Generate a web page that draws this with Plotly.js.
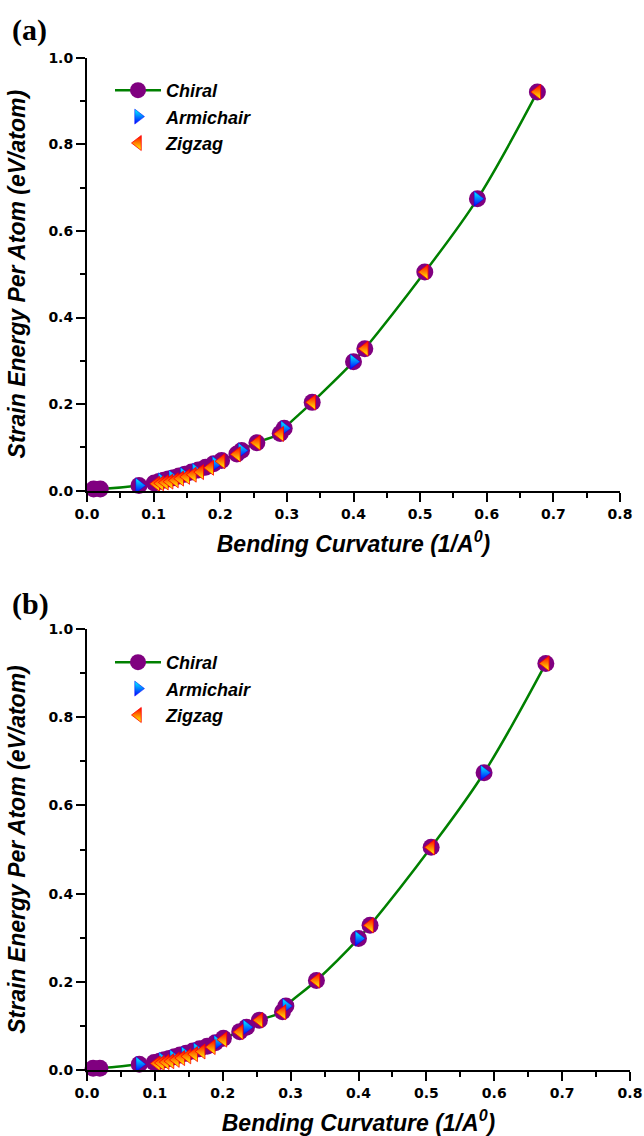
<!DOCTYPE html>
<html>
<head>
<meta charset="utf-8">
<script src="https://cdn.plot.ly/plotly-3.0.1.min.js"></script>
<style>html,body{margin:0;padding:0;background:#fff;}#chart{width:644px;height:1136px;}</style>
</head>
<body>
<div id="chart"></div>
<script>
// ---------- Panel (a) data ----------
const chiralXA = [0.010, 0.020, 0.078, 0.101, 0.108, 0.115, 0.122, 0.130, 0.138, 0.147, 0.157, 0.167, 0.178, 0.190, 0.202, 0.225, 0.232, 0.255, 0.290, 0.296, 0.338, 0.400, 0.417, 0.507, 0.586, 0.676];
const chiralYA = [0.004, 0.004, 0.012, 0.018, 0.021, 0.024, 0.027, 0.030, 0.034, 0.038, 0.043, 0.048, 0.054, 0.062, 0.070, 0.085, 0.093, 0.111, 0.132, 0.144, 0.204, 0.298, 0.328, 0.505, 0.674, 0.921];
const armXA = [0.078, 0.112, 0.128, 0.145, 0.163, 0.193, 0.232, 0.296, 0.400, 0.586];
const armYA = [0.012, 0.024, 0.030, 0.037, 0.046, 0.062, 0.093, 0.144, 0.298, 0.674];
const zigXA = [0.104, 0.110, 0.117, 0.124, 0.132, 0.140, 0.149, 0.159, 0.170, 0.185, 0.202, 0.225, 0.255, 0.290, 0.338, 0.417, 0.507, 0.676];
const zigYA = [0.016, 0.017, 0.019, 0.021, 0.024, 0.028, 0.032, 0.037, 0.043, 0.053, 0.068, 0.084, 0.111, 0.131, 0.204, 0.328, 0.505, 0.921];

// ---------- Panel (b) data ----------
const chiralXB = [0.009, 0.019, 0.077, 0.099, 0.107, 0.114, 0.121, 0.129, 0.137, 0.146, 0.156, 0.166, 0.177, 0.189, 0.201, 0.225, 0.235, 0.254, 0.288, 0.293, 0.338, 0.400, 0.417, 0.507, 0.585, 0.676];
const chiralYB = [0.004, 0.004, 0.013, 0.017, 0.020, 0.023, 0.026, 0.030, 0.034, 0.038, 0.043, 0.048, 0.054, 0.062, 0.072, 0.087, 0.097, 0.113, 0.132, 0.145, 0.203, 0.298, 0.328, 0.505, 0.674, 0.922];
const armXB = [0.077, 0.111, 0.127, 0.144, 0.162, 0.192, 0.235, 0.293, 0.400, 0.585];
const armYB = [0.013, 0.023, 0.029, 0.036, 0.045, 0.062, 0.097, 0.145, 0.298, 0.674];
const zigXB = [0.103, 0.109, 0.116, 0.123, 0.131, 0.139, 0.148, 0.158, 0.169, 0.184, 0.201, 0.225, 0.254, 0.288, 0.338, 0.417, 0.507, 0.676];
const zigYB = [0.015, 0.016, 0.018, 0.020, 0.023, 0.027, 0.031, 0.036, 0.042, 0.052, 0.069, 0.086, 0.113, 0.131, 0.203, 0.328, 0.505, 0.922];

const seriesNames = ['Chiral', 'Armichair', 'Zigzag'];
const xTicks = [0, 0.1, 0.2, 0.3, 0.4, 0.5, 0.6, 0.7, 0.8];
const yTicks = [0, 0.2, 0.4, 0.6, 0.8, 1.0];

const W = 644, H = 1136;
const px = v => v / W;
const py = v => 1 - v / H;

function traces(cx, cy, ax, ay, zx, zy, xa, ya, lg) {
  return [
    {x: cx, y: cy, xaxis: xa, yaxis: ya, legend: lg, name: seriesNames[0],
     mode: 'lines+markers', type: 'scatter', cliponaxis: false,
     line: {color: '#008000', width: 2.5, shape: 'spline', smoothing: 1},
     marker: {symbol: 'circle', size: 17, color: '#800080'}},
    {x: ax, y: ay, xaxis: xa, yaxis: ya, legend: lg, name: seriesNames[1],
     mode: 'markers', type: 'scatter', cliponaxis: false,
     marker: {symbol: 'triangle-right', size: 13, color: '#00FFFF',
              gradient: {type: 'vertical', color: '#0000FF'}, line: {color: '#0000FF', width: 0.5}}},
    {x: zx, y: zy, xaxis: xa, yaxis: ya, legend: lg, name: seriesNames[2],
     mode: 'markers', type: 'scatter', cliponaxis: false,
     marker: {symbol: 'triangle-left', size: 13, color: '#FF0000',
              gradient: {type: 'vertical', color: '#FFFF00'}, line: {color: '#FF0000', width: 0.8}}}
  ];
}

const data = [].concat(
  traces(chiralXA, chiralYA, armXA, armYA, zigXA, zigYA, 'x', 'y', 'legend'),
  traces(chiralXB, chiralYB, armXB, armYB, zigXB, zigYB, 'x2', 'y2', 'legend2')
);

const tickFont = {family: 'DejaVu Sans', size: 14, color: '#000', weight: 'bold'};
const titleFont = {family: 'Liberation Sans, Arial', size: 23, color: '#000', weight: 'bold', style: 'italic'};

function xAxis(domain, anchor) {
  return {domain: domain, anchor: anchor, range: [0, 0.8], tickvals: xTicks,
    ticktext: xTicks.map(v => v.toFixed(1)), showgrid: false, zeroline: false,
    showline: true, linecolor: '#000', linewidth: 2, ticks: 'outside', ticklen: 9, tickwidth: 2,
    tickcolor: '#000', tickfont: tickFont, fixedrange: true,
    minor: {dtick: 0.05, tick0: 0, ticks: 'outside', ticklen: 5, tickwidth: 2, tickcolor: '#000', showgrid: false},
    title: {text: 'Bending Curvature (1/A<sup>0</sup>)', font: titleFont, standoff: 15}};
}
function yAxis(domain, anchor) {
  return {domain: domain, anchor: anchor, range: [0, 1.0], tickvals: yTicks,
    ticktext: yTicks.map(v => v.toFixed(1)), showgrid: false, zeroline: false,
    showline: true, linecolor: '#000', linewidth: 2, ticks: 'outside', ticklen: 9, tickwidth: 2,
    tickcolor: '#000', tickfont: tickFont, fixedrange: true,
    minor: {dtick: 0.1, tick0: 0, ticks: 'outside', ticklen: 5, tickwidth: 2, tickcolor: '#000', showgrid: false},
    title: {text: 'Strain Energy Per Atom (eV/atom)', font: titleFont, standoff: 16}};
}

const legendBase = {bgcolor: 'rgba(0,0,0,0)', borderwidth: 0, xanchor: 'left', yanchor: 'top',
  font: {family: 'Liberation Sans, Arial', size: 18, color: '#000', weight: 'bold', style: 'italic'},
  traceorder: 'normal', itemwidth: 46};

const layout = {
  width: W, height: H, margin: {l: 0, r: 0, t: 0, b: 0},
  paper_bgcolor: '#fff', plot_bgcolor: '#fff', showlegend: true,
  xaxis: xAxis([px(87), px(620)], 'y'),
  yaxis: yAxis([py(490.7), py(57.7)], 'x'),
  xaxis2: xAxis([px(87), px(630)], 'y2'),
  yaxis2: yAxis([py(1070), py(629)], 'x2'),
  legend: Object.assign({x: px(110), y: py(72)}, legendBase),
  legend2: Object.assign({x: px(110), y: py(644)}, legendBase),
  annotations: [
    {text: '(a)', xref: 'paper', yref: 'paper', x: px(10), y: py(30), xanchor: 'left', yanchor: 'middle',
     showarrow: false, font: {family: 'Liberation Serif, Times New Roman', size: 30, color: '#000', weight: 'bold'}},
    {text: '(b)', xref: 'paper', yref: 'paper', x: px(10), y: py(604), xanchor: 'left', yanchor: 'middle',
     showarrow: false, font: {family: 'Liberation Serif, Times New Roman', size: 30, color: '#000', weight: 'bold'}}
  ]
};

Plotly.newPlot('chart', data, layout, {staticPlot: true, displayModeBar: false});
</script>
</body>
</html>
